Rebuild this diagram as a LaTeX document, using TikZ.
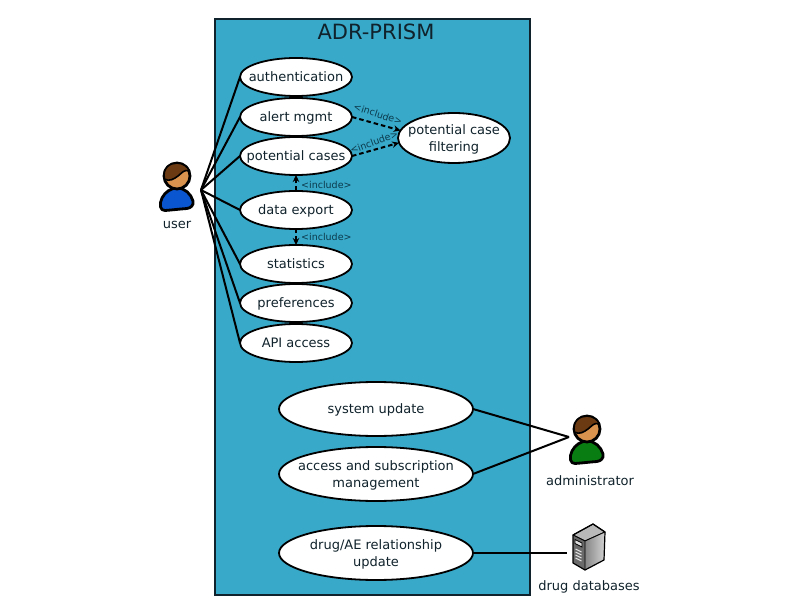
\documentclass[tikz,border=0pt]{standalone}
\usepackage{fontspec}
\setmainfont{DejaVu Sans}
\usepackage{tikz}
\usetikzlibrary{arrows.meta,positioning,shapes.geometric}
\definecolor{adInk}{HTML}{10222B}
\definecolor{adLabel}{HTML}{0B3A4C}
\definecolor{adSystem}{HTML}{38A9C9}
\definecolor{adSkin}{HTML}{D9934F}
\definecolor{adHair}{HTML}{6B3A12}
\definecolor{adBlue}{HTML}{0A55D0}
\definecolor{adGreen}{HTML}{0A7D12}
\definecolor{adSrvDark}{HTML}{6A6A6A}
\tikzset{
  % System boundary
  sysbox/.style={rectangle,draw=adInk,line width=1.6pt,fill=adSystem,
    minimum width=315pt,minimum height=576pt,inner sep=0pt},
  % Small use case
  ucase/.style={ellipse,draw=black,line width=1.8pt,fill=white,
    inner xsep=-20pt,inner ysep=0pt,outer sep=0pt,text depth=0pt,
    minimum width=112pt,minimum height=38pt,align=center,
    font=\fontsize{13}{17}\selectfont,text=adInk},
  % Large use case
  ucasel/.style={ucase,minimum width=194pt,minimum height=54pt},
  % Texts
  sysname/.style={font=\fontsize{21}{24}\selectfont,text=adInk,inner sep=0pt},
  actorname/.style={font=\fontsize{13}{16}\selectfont,text=adInk,inner sep=0pt},
  lbl/.style={font=\fontsize{9.5}{11}\selectfont,text=adLabel,inner sep=0pt},
  % Connectors
  assoc/.style={line width=2pt,color=black},
  incl/.style={->,>={Stealth[length=7pt,width=6.5pt]},line width=2pt,
    dash pattern=on 4.5pt off 3pt,color=black},
  % Person icon, origin at the middle of the head
  pics/actor/.style={code={
    \draw[line width=2.8pt,fill=#1,line join=round]
      (-12,34.5) .. controls (-17,35) and (-18,28) .. (-15,22)
      .. controls (-12,16) and (-6,12) .. (0,12)
      .. controls (8,12) and (14,18) .. (16,25)
      .. controls (17,29) and (14,32) .. (10,32.5)
      .. controls (3,33) and (-5,34) .. (-12,34.5) -- cycle;
    \draw[line width=2.8pt,fill=adSkin] (0,0) circle (13);
    \draw[line width=1.6pt,fill=adHair,line join=round]
      (-12.5,3) .. controls (-15,-8) and (-7,-13) .. (0,-13)
      .. controls (6,-13) and (11,-9) .. (12.5,-5)
      .. controls (7,-7) and (5,-3) .. (1,0)
      .. controls (-3,3) and (-8,6) .. (-12.5,3) -- cycle;
  }},
  % Server tower
  pics/server/.style={code={
    \draw[line width=1pt,fill=gray!55,line join=round]
      (0,11) -- (20,0) -- (32,8) -- (12,17) -- cycle;
    \fill[left color=gray!95,right color=gray!35]
      (12,17) -- (32,8) -- (31,36) -- (12,46) -- cycle;
    \fill[adSrvDark] (0,11) -- (12,17) -- (12,46) -- (0,39) -- cycle;
    \draw[line width=1.2pt,line join=round]
      (0,11) -- (20,0) -- (32,8) -- (31,36) -- (12,46) -- (0,39) -- cycle;
    \draw[line width=.8pt] (0,11) -- (12,17) -- (32,8) (12,17) -- (12,46);
    \draw[line width=.8pt,fill=gray!25] (2,15.5) -- (9,19) -- (9,23) -- (2,19.5) -- cycle;
    \foreach \ys in {25,28,31,34}
      \draw[line width=.9pt,color=gray!20] (2.5,\ys) -- (8.5,\ys+3);
  }},
}
\begin{document}
\begin{tikzpicture}[x=1pt,y=-1pt,node distance=1.5pt]
  \useasboundingbox (0,0) rectangle (798,612);
  \node[sysbox] (sys) at (372.5,307) {};
  \node[sysname] (title) at (376,32) {ADR-PRISM};

  \node[ucase] (auth) at (296,77) {authentication};
  \node[ucase,below=2pt of auth] (alert) {alert mgmt};
  \node[ucase,below=1pt of alert] (cases) {potential cases};
  \node[ucase,below=16pt of cases] (export) {data export};
  \node[ucase,below=16pt of export] (stats) {statistics};
  \node[ucase,below=1pt of stats] (prefs) {preferences};
  \node[ucase,below=2pt of prefs] (api) {API access};
  \node[ucase,minimum height=50pt] (filter) at (454,138) {potential case\\filtering};

  \node[ucasel] (update) at (376,409) {system update};
  \node[ucasel,below=11pt of update] (access) {access and subscription\\management};
  \node[ucasel,below=25pt of access] (drug) {drug/AE relationship\\update};

  % actors
  \pic at (177,176) {actor=adBlue};
  \pic at (587,429) {actor=adGreen};
  \pic at (573,524) {server};
  \node[actorname] (user) at (177,225) {user};
  \node[actorname] (admin) at (590,481) {administrator};
  \node[actorname] (dbs) at (589,587) {drug databases};
  \coordinate (userhub) at (201,190);
  \coordinate (adminhub) at (569,437);
  \coordinate (dbshub) at (567,553);

  \foreach \uc in {auth,alert,cases,export,stats,prefs,api}
    \draw[assoc] (userhub) -- (\uc.west);
  \draw[assoc] (update.east) -- (adminhub);
  \draw[assoc] (access.east) -- (adminhub);
  \draw[assoc] (drug.east) -- (dbshub);

  \draw[incl] (alert.east) -- (filter.172);
  \draw[incl] (cases.east) -- (filter.185);
  \draw[incl] (export.north) -- (cases.south);
  \draw[incl] (export.south) -- (stats.north);

  \node[lbl,rotate=-18] (inc1) at (378,114) {<include>};
  \node[lbl,rotate=20] (inc2) at (374,142) {<include>};
  \node[lbl,right=5pt of cases.south,yshift=-10pt] (inc3) {<include>};
  \node[lbl,right=5pt of stats.north,yshift=8pt] (inc4) {<include>};
\end{tikzpicture}
\end{document}
